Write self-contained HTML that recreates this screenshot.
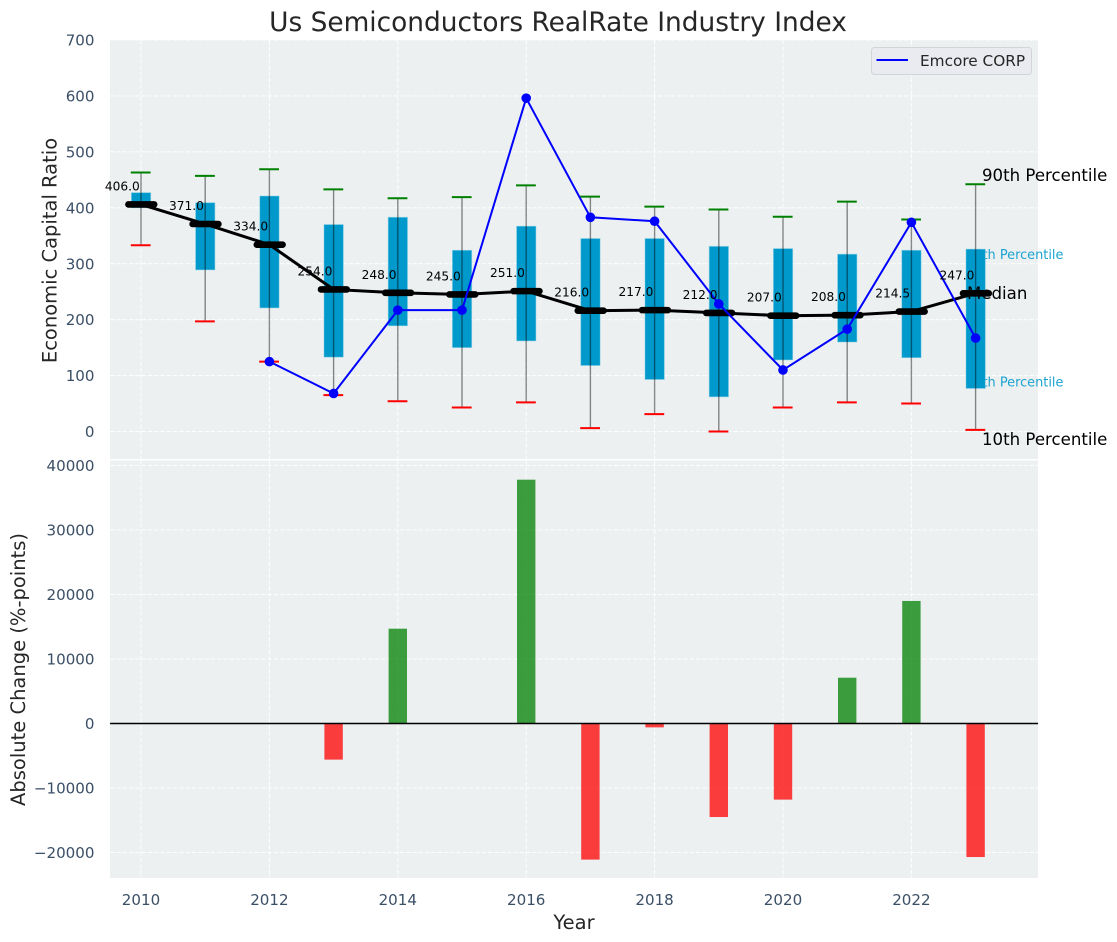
<!DOCTYPE html>
<html lang="en">
<head>
<meta charset="utf-8">
<title>Us Semiconductors RealRate Industry Index</title>
<style>
html,body{margin:0;padding:0;background:#fff;width:1117px;height:942px;overflow:hidden}
svg{display:block;font-family:"DejaVu Sans","Liberation Sans",sans-serif}
</style>
</head>
<body>
<svg id="chart" xmlns="http://www.w3.org/2000/svg" width="1117" height="942" viewBox="0 0 1117 942"></svg>
<script>
const years = [2010,2011,2012,2013,2014,2015,2016,2017,2018,2019,2020,2021,2022,2023];
const p90 = [463,457,469,433,417,419,440,420,402,397,384,411,379,442];
const p75 = [427,409,421,370,383,324,367,345,345,331,327,317,324,326];
const medians = [406,371,334,254,248,245,251,216,217,212,207,208,214.5,247];
const p25 = [400,289,221,133,189,150,162,118,93,62,128,160,132,77];
const p10 = [333,197,125,65,54,43,52,6,31,0,43,52,50,3];
const emcore = [null,null,125,68,217,217,596,383,376,228,110,183,374,167];
const absChange = [null,null,null,-5600,14700,null,37800,-21100,-600,-14500,-11800,7100,19000,-20700];
const topTicks = [0,100,200,300,400,500,600,700];
const bottomTicks = [-20000,-10000,0,10000,20000,30000,40000];
const xTicks = [2010,2012,2014,2016,2018,2020,2022];

const svg = document.getElementById('chart');
const NS = 'http://www.w3.org/2000/svg';
const X0 = 141, PXYEAR = 64.2, L = 110, R = 1038;
const T1 = 40, B1 = 459, T2 = 460.5, B2 = 878;
const xs = v => X0 + (v - 2010) * PXYEAR;
const yTop = v => 431.5 - v * (391.5 / 700);
const yBot = v => 723.5 - v * (258 / 40000);
const TICK = '#3b4f66', DARK = '#262626';

function add(parent, tag, attrs, text) {
  const el = document.createElementNS(NS, tag);
  for (const k in attrs) el.setAttribute(k, attrs[k]);
  if (text !== undefined) el.textContent = text;
  parent.appendChild(el);
  return el;
}
function group(name) {
  const g = document.createElementNS(NS, 'g');
  
  
  svg.appendChild(g);
  return g;
}
function pts(arr, fy) {
  return arr.map((v, i) => v === null ? null : xs(years[i]) + ',' + fy(v)).filter(Boolean).join(' ');
}

/* panel backgrounds */
const bgTop = add(svg, 'rect', {x: L, y: T1, width: R - L, height: B1 - T1, fill: '#ecf0f1'});


const bgBot = add(svg, 'rect', {x: L, y: T2, width: R - L, height: B2 - T2, fill: '#ecf0f1'});



/* grid */
const gridG = group('grid-lines');
const gridStyle = {stroke: '#ffffff', 'stroke-width': 1.1, 'stroke-dasharray': '4.4 1.9', 'stroke-opacity': 0.85};
topTicks.forEach(t => add(gridG, 'line', Object.assign({x1: L, x2: R, y1: yTop(t), y2: yTop(t)}, gridStyle)));
bottomTicks.forEach(t => add(gridG, 'line', Object.assign({x1: L, x2: R, y1: yBot(t), y2: yBot(t)}, gridStyle)));
xTicks.forEach(t => {
  add(gridG, 'line', Object.assign({x1: xs(t), x2: xs(t), y1: T1, y2: B1}, gridStyle));
  add(gridG, 'line', Object.assign({x1: xs(t), x2: xs(t), y1: T2, y2: B2}, gridStyle));
});

/* tick labels */
const yTickG = group('y-axis-tick-labels');
topTicks.forEach(t => add(yTickG, 'text', {x: 94.5, y: yTop(t) + 5.6, 'text-anchor': 'end', 'font-size': 15.1, fill: TICK}, String(t)));
bottomTicks.forEach(t => add(yTickG, 'text', {x: 94.5, y: yBot(t) + 5.6, 'text-anchor': 'end', 'font-size': 15.1, fill: TICK}, String(t).replace('-', '\u2212')));
const xTickG = group('x-axis-tick-labels');
xTicks.forEach(t => add(xTickG, 'text', {x: xs(t), y: 905, 'text-anchor': 'middle', 'font-size': 15.1, fill: TICK}, String(t)));

/* quartile annotations sit behind the last box */
const last = years.length - 1;
const q3Label = add(svg, 'text', {x: xs(years[last]) - 9.5, y: yTop(p75[last]) + 10, 'font-size': 12.9, fill: '#1aa3d1'}, '75th Percentile');


const q1Label = add(svg, 'text', {x: xs(years[last]) - 9.5, y: yTop(p25[last]) - 2, 'font-size': 12.9, fill: '#1aa3d1'}, '25th Percentile');



/* boxes */
const boxG = group('percentile-boxes');
years.forEach((yr, i) => {
  const b = add(boxG, 'rect', {
    x: xs(yr) - 9.6, width: 19.3,
    y: yTop(p75[i]), height: yTop(p25[i]) - yTop(p75[i]),
    fill: '#0099cc', stroke: '#7fcce5', 'stroke-opacity': 0.6, 'stroke-width': 0.8
  });
  
  
});

/* whiskers */
const whiskerG = group('whiskers');
years.forEach((yr, i) => {
  const x = xs(yr);
  add(whiskerG, 'line', {x1: x, x2: x, y1: yTop(p90[i]), y2: yTop(p10[i]), stroke: '#000', 'stroke-opacity': 0.45, 'stroke-width': 1.4});
  add(whiskerG, 'line', {x1: x - 10.2, x2: x + 9.6, y1: yTop(p90[i]), y2: yTop(p90[i]), stroke: '#008000', 'stroke-width': 2});
  add(whiskerG, 'line', {x1: x - 10.2, x2: x + 9.6, y1: yTop(p10[i]), y2: yTop(p10[i]), stroke: '#ff0000', 'stroke-width': 2});
});

/* percentile annotations */
const p90Label = add(svg, 'text', {x: 982, y: 181, 'font-size': 16.6, fill: '#000'}, '90th Percentile');


const p10Label = add(svg, 'text', {x: 982, y: 445, 'font-size': 16.6, fill: '#000'}, '10th Percentile');


const medLabel = add(svg, 'text', {x: 967, y: 299, 'font-size': 16.6, fill: '#000'}, 'Median');



/* median line */
const medG = group('median-series');
add(medG, 'polyline', {points: pts(medians, yTop), fill: 'none', stroke: '#000', 'stroke-width': 3});
years.forEach((yr, i) => {
  const m = add(medG, 'line', {x1: xs(yr) - 12.6, x2: xs(yr) + 13.2, y1: yTop(medians[i]), y2: yTop(medians[i]), stroke: '#000', 'stroke-width': 6.6, 'stroke-linecap': 'round'});
  
  
});

/* emcore series */
const emG = group('emcore-series');
add(emG, 'polyline', {points: pts(emcore, yTop), fill: 'none', stroke: '#0000ff', 'stroke-width': 2});
years.forEach((yr, i) => {
  if (emcore[i] === null) return;
  const c = add(emG, 'circle', {cx: xs(yr), cy: yTop(emcore[i]), r: 4.8, fill: '#0000ff'});
  
  
});

/* median value labels */
const medTextG = group('median-value-labels');
years.forEach((yr, i) => {
  add(medTextG, 'text', {x: xs(yr) - 18.7, y: yTop(medians[i]) - 14, 'text-anchor': 'middle', 'font-size': 12.2, fill: '#000'}, medians[i].toFixed(1));
});

/* change bars */
const barG = group('absolute-change-bars');
years.forEach((yr, i) => {
  const v = absChange[i];
  if (v === null) return;
  const y0 = yBot(0), y1 = yBot(v);
  const bar = add(barG, 'rect', {
    x: xs(yr) - 9.2, width: 18.4,
    y: Math.min(y0, y1), height: Math.abs(y1 - y0),
    fill: v >= 0 ? '#008000' : '#ff0000', 'fill-opacity': 0.75
  });
  
  
});
const zero = add(svg, 'line', {x1: L, x2: R, y1: yBot(0), y2: yBot(0), stroke: '#000', 'stroke-width': 1.5});



/* titles */
const title = add(svg, 'text', {x: 558, y: 31, 'text-anchor': 'middle', 'font-size': 26.4, fill: DARK}, 'Us Semiconductors RealRate Industry Index');


const yt1 = add(svg, 'text', {transform: 'translate(56.7 250.5) rotate(-90)', 'text-anchor': 'middle', 'font-size': 19.5, fill: DARK}, 'Economic Capital Ratio');


const yt2 = add(svg, 'text', {transform: 'translate(25 669.5) rotate(-90)', 'text-anchor': 'middle', 'font-size': 19.5, fill: DARK}, 'Absolute Change (%-points)');


const xt = add(svg, 'text', {x: 574, y: 929, 'text-anchor': 'middle', 'font-size': 19.5, fill: DARK}, 'Year');



/* legend */
const legendG = group('legend');
add(legendG, 'rect', {x: 871.5, y: 47.5, width: 160, height: 27, rx: 3, fill: '#e9ebf0', stroke: '#d2d4d8', 'stroke-width': 1});
add(legendG, 'line', {x1: 876.5, x2: 908, y1: 60, y2: 60, stroke: '#0000ff', 'stroke-width': 2});
add(legendG, 'text', {x: 920, y: 66, 'font-size': 15.3, fill: DARK}, 'Emcore CORP');
</script>
</body>
</html>
